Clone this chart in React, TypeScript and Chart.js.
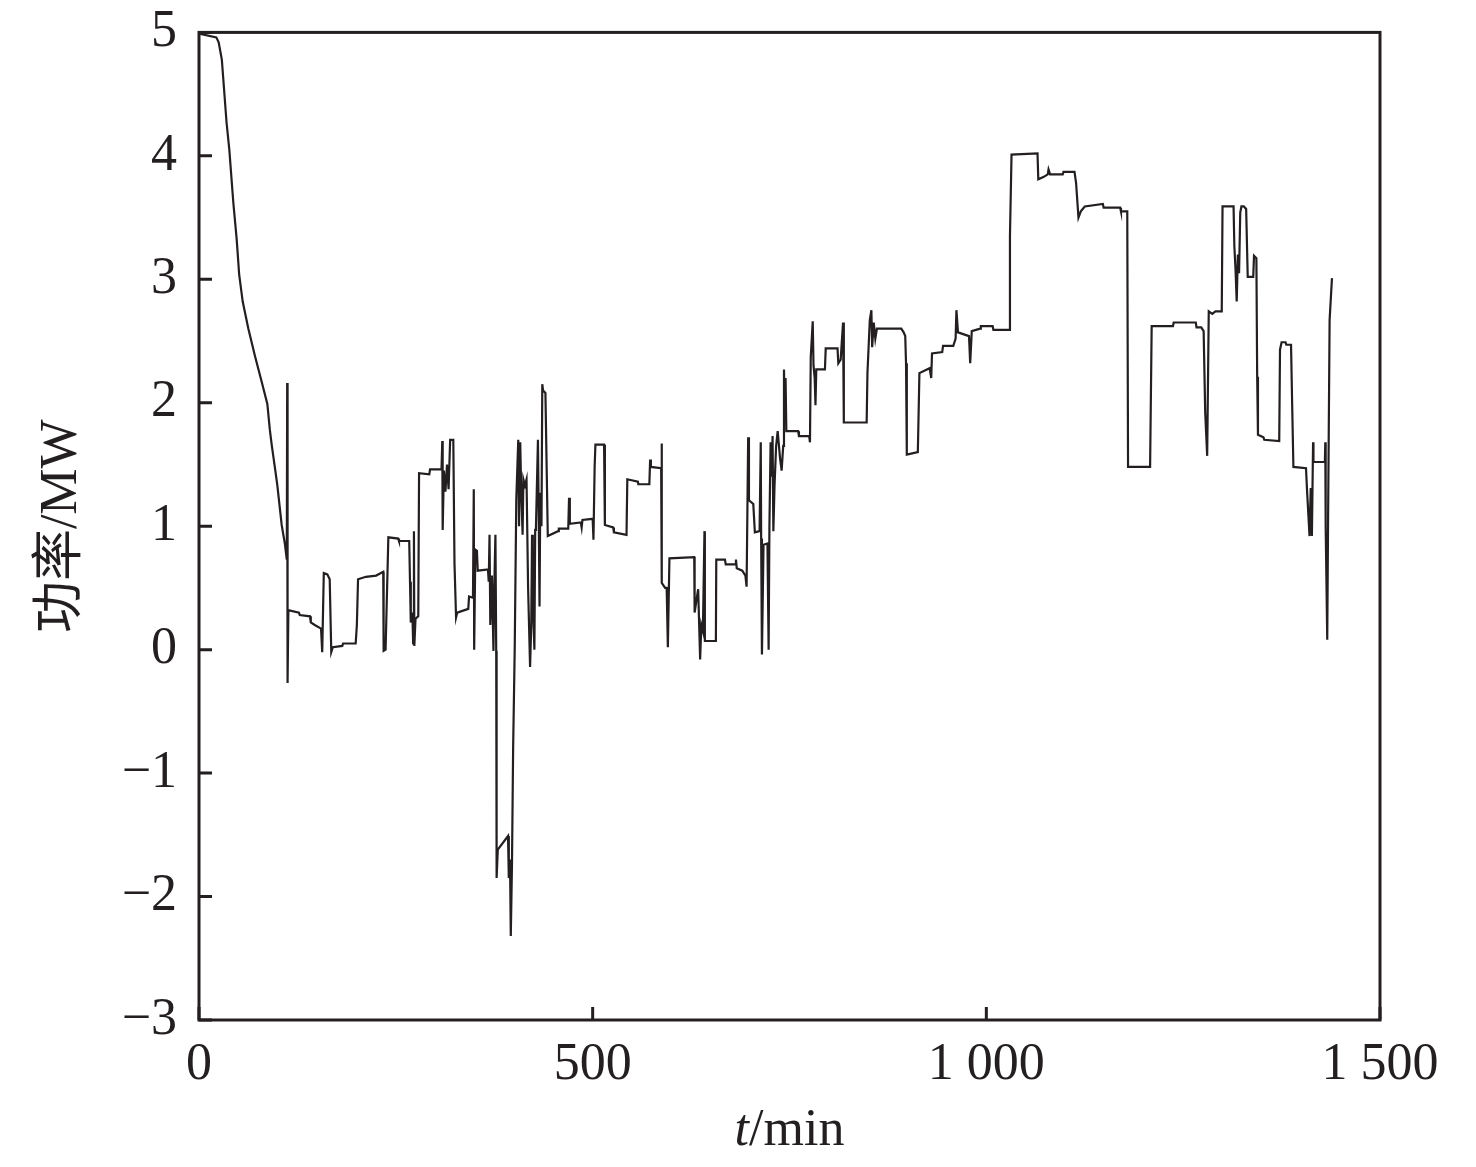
import { useEffect, useRef } from 'react';
import Chart from 'chart.js/auto';

// time in minutes and power in MW
const timeMin = [
  0, 22, 25, 29, 35, 38.5, 43.6, 47.8, 51, 55.5, 62.7, 71, 79.6, 86.8, 90, 92.3, 96.5, 99.5, 105, 109, 111.5,
  112, 112.5, 113.5, 127, 128, 141, 142, 147, 155, 156.5, 158.5, 163, 166, 168, 170, 182, 183, 199, 200.5,
  202, 212, 225, 234, 234.5, 237, 240.5, 253, 254, 267, 268, 269, 271, 272, 273, 273.5, 275, 278.5, 279.5,
  292.5, 293.5, 308, 309, 309.5, 311, 313, 315, 317, 319, 323, 324.5, 326.5, 328, 342, 343, 348, 349, 349.5,
  351, 353, 354, 367, 368, 369, 370, 372, 374, 375, 376.5, 377.5, 378, 379.5, 392.5, 393.5, 395, 396, 397.5,
  399, 401, 403, 405.5, 406.5, 408, 409, 411, 412, 414, 416, 418, 420.5, 422, 423, 424, 426, 427, 428, 430.5,
  431.5, 432.5, 433.5, 435, 436, 437, 440, 443, 456, 457, 469, 470, 471, 485, 486, 487, 500, 501, 502.5,
  503.5, 514.5, 515.5, 526, 527, 543, 544, 557.5, 558, 572, 573, 574, 587, 587.5, 588, 592, 594, 595.5,
  597.5, 629, 629.5, 633, 634, 636.5, 638, 640, 642, 642.5, 656.5, 657, 668, 669, 681, 682, 683, 690, 694,
  695.5, 697.5, 698.5, 704, 706, 712, 713.5, 714, 715, 717, 722, 723.5, 724.5, 726, 727.5, 728.5, 729.5,
  731, 733, 735, 738, 740, 742, 743, 744, 745, 746, 761, 762, 775, 776, 777, 779.5, 780.5, 782, 783, 784,
  795, 796, 811, 812, 815, 818, 819, 848, 849, 852, 854, 855, 857, 859, 861, 892, 895, 897, 898, 899, 913,
  915, 928, 930, 931, 944, 945, 958, 961, 962, 964, 978, 979.5, 981.5, 992, 993, 1008, 1009, 1029, 1030,
  1032, 1065, 1066, 1073, 1078, 1079, 1081, 1097, 1098, 1112, 1114, 1117, 1120, 1125, 1148, 1149, 1170,
  1171, 1179, 1180, 1208, 1210, 1237, 1238, 1266, 1267, 1273, 1276, 1278, 1280.5, 1282.5, 1287, 1291, 1299,
  1300, 1314, 1315, 1316.5, 1318, 1319.5, 1321, 1322.5, 1324, 1327, 1330, 1332, 1339, 1340, 1343, 1344,
  1345, 1352, 1353, 1372, 1373, 1375, 1380, 1381, 1387, 1388.5, 1390, 1406, 1407.5, 1410.5, 1412, 1413.5,
  1415, 1415.5, 1430, 1430.5, 1431, 1433, 1434, 1436, 1439,
];

const powerMW = [
  4.99, 4.96, 4.92, 4.78, 4.27, 4.05, 3.62, 3.33, 3.04, 2.82, 2.6, 2.38, 2.17, 1.99, 1.78, 1.66, 1.47, 1.33, 1.01, 0.86, 0.73,
  2.16, -0.27, 0.32, 0.3, 0.28, 0.27, 0.22, 0.2, 0.17, -0.02, 0.62, 0.61, 0.57, -0.02, 0.02, 0.03, 0.05, 0.05, 0.2,
  0.57, 0.59, 0.6, 0.63, -0.01, 0, 0.91, 0.9, 0.88, 0.88, 0.55, 0.22, 0.3, 0.05, 0.96, 0.03, 0.25, 0.27, 1.43,
  1.42, 1.46, 1.46, 1.69, 0.97, 1.45, 1.28, 1.5, 1.3, 1.7, 1.7, 0.7, 0.26, 0.3, 0.33, 0.43, 0.42, 1.3, 0,
  0.81, 0.8, 0.64, 0.65, 0.55, 0.93, 0.2, 0.6, -0.01, 0.5, 0.93, -0.01, -1.85, -1.62, -1.51, -1.85, -1.7, -2.32, -1.75,
  -0.79, 0.01, 1.22, 1.7, 1.0, 1.68, 1.36, 0.93, 1.38, 1.33, 1.38, 0.5, -0.14, 0.2, 0.93, 0.4, 0, 0.97, 1.0, 1.7,
  1.1, 0.35, 1.27, 1.0, 2.15, 2.1, 2.08, 0.92, 0.96, 0.98, 0.98, 1.23, 1.02, 1.03, 0.99, 1.05, 1.06, 0.89, 1.48,
  1.66, 1.66, 1.01, 0.99, 0.95, 0.93, 1.38, 1.36, 1.34, 1.34, 1.54, 1.48, 1.47, 1.67, 0.54, 0.5, 0.5, 0.02,
  0.74, 0.75, 0.3, 0.45, 0.49, -0.08, 0.2, 0.15, 0.96, 0.07, 0.07, 0.73, 0.73, 0.69, 0.69, 0.73, 0.66, 0.64, 0.6,
  0.51, 1.72, 1.21, 1.18, 0.95, 0.96, 1.68, 0.9, -0.04, 0.85, 0.86, 0, 1.0, 1.68, 1.4, 1.73, 0.96,
  1.33, 1.65, 1.77, 1.55, 1.45, 1.65, 2.27, 1.9, 2.2, 1.77, 1.77, 1.73, 1.73, 1.68, 2.37, 2.66, 2.3, 2.2, 1.98, 2.27,
  2.27, 2.44, 2.44, 2.32, 2.35, 2.65, 1.84, 1.84, 2.24, 2.67, 2.75, 2.45, 2.65, 2.52, 2.6, 2.6, 2.57, 2.54, 2.32, 1.58, 1.6,
  2.24, 2.28, 2.2, 2.4, 2.41, 2.46, 2.46, 2.52, 2.75, 2.57, 2.54, 2.32, 2.58, 2.6, 2.62, 2.62, 2.59, 2.59, 3.35,
  4.01, 4.02, 3.81, 3.83, 3.85, 3.89, 3.85, 3.85, 3.87, 3.87, 3.78, 3.5, 3.55, 3.59, 3.61, 3.58, 3.58,
  3.55, 3.55, 1.48, 1.48, 2.62, 2.62, 2.65, 2.65, 2.61, 2.61, 2.58, 1.92, 1.57, 2.74, 2.72, 2.74, 2.74,
  3.59, 3.59, 3.27, 3.08, 2.82, 3.2, 3.05, 3.54, 3.59, 3.59, 3.57, 3.02, 3.02, 3.19, 3.17, 2.21,
  1.74, 1.72, 1.7, 1.69, 2.43, 2.49, 2.49, 2.47, 2.47, 1.97, 1.48, 1.47, 1.27, 0.92, 1.31, 0.92,
  1.68, 1.52, 1.52, 1.68, 1.0, 0.08, 1.0, 2.67, 3.01,
];

const xTicks = [0, 500, 1000, 1500];
const yTicks = [-3, -2, -1, 0, 1, 2, 3, 4, 5];

const INK = '#231f20';
const FONT = '"Liberation Serif", "Noto Sans CJK SC", serif';

function fmtX(v: number) {
  if (v >= 1000) return `${Math.floor(v / 1000)} ${String(v % 1000).padStart(3, '0')}`;
  return String(v);
}

function fmtY(v: number) {
  return v < 0 ? '\u2212' + Math.abs(v) : String(v);
}

const framePlugin = {
  id: 'frame',
  afterDraw(chart: any) {
    const { ctx, chartArea: a, scales } = chart;
    ctx.save();
    ctx.strokeStyle = INK;
    ctx.lineWidth = 3;
    ctx.strokeRect(a.left, a.top, a.right - a.left, a.bottom - a.top);

    // inward tick marks
    ctx.beginPath();
    xTicks.forEach((v) => {
      const px = scales.x.getPixelForValue(v);
      ctx.moveTo(px, a.bottom);
      ctx.lineTo(px, a.bottom - 13);
    });
    yTicks.forEach((v) => {
      const py = scales.y.getPixelForValue(v);
      ctx.moveTo(a.left, py);
      ctx.lineTo(a.left + 13, py);
    });
    ctx.stroke();

    // x title: italic t + /min
    ctx.fillStyle = INK;
    ctx.textBaseline = 'alphabetic';
    ctx.font = `italic 52px ${FONT}`;
    const w1 = ctx.measureText('t').width;
    ctx.font = `52px ${FONT}`;
    const w2 = ctx.measureText('/min').width;
    const x0 = (a.left + a.right) / 2 - (w1 + w2) / 2;
    ctx.font = `italic 52px ${FONT}`;
    ctx.fillText('t', x0, 1145);
    ctx.font = `52px ${FONT}`;
    ctx.fillText('/min', x0 + w1, 1145);

    // y title
    ctx.translate(62, (a.top + a.bottom) / 2);
    ctx.rotate(-Math.PI / 2);
    ctx.textAlign = 'center';
    ctx.textBaseline = 'middle';
    ctx.fillText('功率/MW', 0, 0);
    ctx.restore();
  },
};

export default function App() {
  const canvasRef = useRef<HTMLCanvasElement | null>(null);

  useEffect(() => {
    if (!canvasRef.current) {
      return;
    }
    document.body.style.margin = '0';
    document.body.style.overflow = 'hidden';

    const chart = new Chart(canvasRef.current, {
      type: 'scatter',
      data: {
        datasets: [
          {
            data: timeMin.map((t, i) => ({ x: t, y: powerMW[i] })),
            showLine: true,
            borderColor: INK,
            borderWidth: 2.2,
            pointRadius: 0,
            tension: 0,
          },
        ],
      },
      options: {
        animation: false,
        responsive: true,
        maintainAspectRatio: false,
        layout: { padding: { left: 0, top: 32, right: 96, bottom: 0 } },
        plugins: { legend: { display: false }, tooltip: { enabled: false } },
        scales: {
          x: {
            type: 'linear',
            min: 0,
            max: 1500,
            afterBuildTicks: (s: any) => { s.ticks = xTicks.map((v) => ({ value: v })); },
            afterFit: (s: any) => { s.height = 147; },
            grid: { display: false, drawTicks: false },
            border: { display: false },
            ticks: {
              autoSkip: false,
              maxRotation: 0,
              padding: 14,
              color: INK,
              font: { family: FONT, size: 52 },
              callback: (v: any) => fmtX(Number(v)),
            },
          },
          y: {
            type: 'linear',
            min: -3,
            max: 5,
            afterBuildTicks: (s: any) => { s.ticks = yTicks.map((v) => ({ value: v })); },
            afterFit: (s: any) => { s.width = 199; },
            grid: { display: false, drawTicks: false },
            border: { display: false },
            ticks: {
              autoSkip: false,
              padding: 22,
              color: INK,
              font: { family: FONT, size: 52, lineHeight: 0.4 },
              callback: (v: any) => fmtY(Number(v)),
            },
          },
        },
      },
      plugins: [framePlugin],
    });
    return () => chart.destroy();
  }, []);

  return (
    <div style={{ width: '1476px', height: '1167px', background: '#fff' }}>
      <canvas ref={canvasRef} />
    </div>
  );
}
